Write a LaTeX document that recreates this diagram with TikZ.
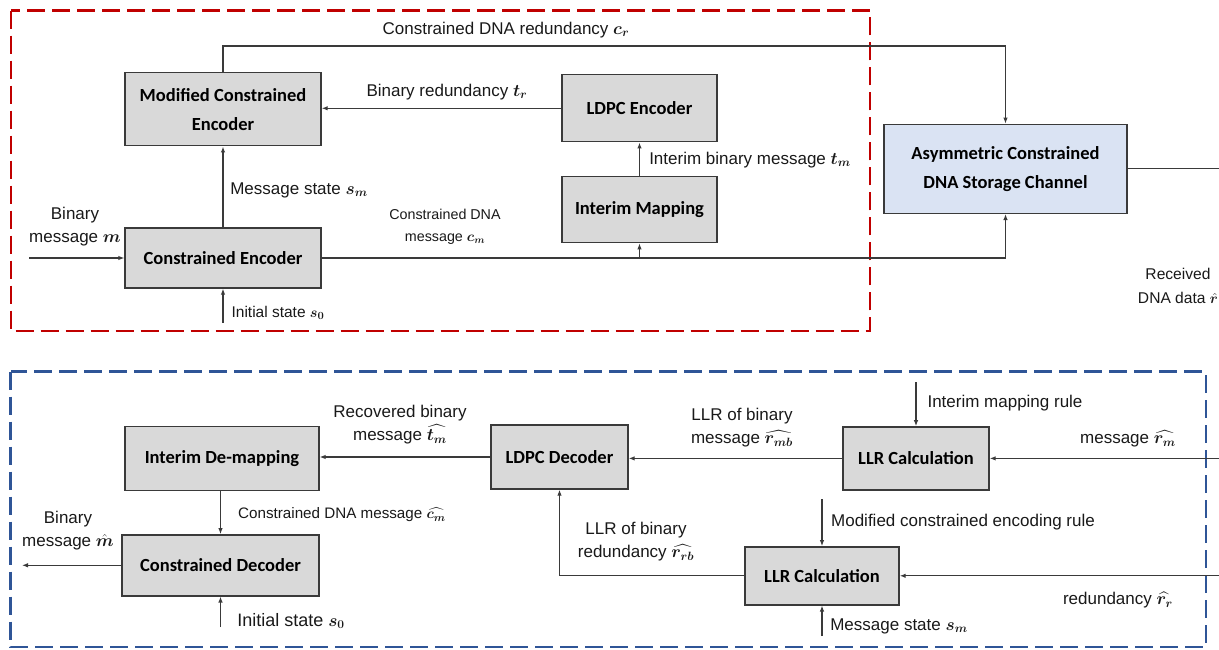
\documentclass[tikz,border=0pt]{standalone}
\usepackage{amsmath}
\usepackage{bm}
\usepackage{fontspec}
\setmainfont{Liberation Sans}
\newfontfamily\boxfont{Carlito}
\usetikzlibrary{arrows.meta}
\definecolor{boxgray}{HTML}{D9D9D9}
\definecolor{chanblue}{HTML}{DAE3F3}
\definecolor{linegray}{HTML}{3A3A3A}
\definecolor{redframe}{HTML}{C00000}
\definecolor{blueframe}{HTML}{2F5597}
\begin{document}
\begin{tikzpicture}[x=1pt,y=-1pt,
  blk/.style={draw=linegray, line width=1.4pt, fill=boxgray, inner sep=0pt, align=center,
    font=\boxfont\bfseries\fontsize{18.5}{29}\selectfont},
  lbl/.style={inner sep=0pt, align=center, text=black!90, font=\fontsize{17}{23}\selectfont},
  conn/.style={draw=linegray, line width=1.1pt},
  arr/.style={conn, -{Latex[length=6pt,width=4.5pt]}},
  frame/.style={line width=2.6pt, dash pattern=on 18pt off 7pt}]
\useasboundingbox (0,0) rectangle (1219,650);
% frames
\draw[frame, draw=redframe] (11,10.7) rectangle (870,331);
\draw[frame, draw=blueframe] (10.7,371.7) rectangle (1206,647);
% top blocks
\node[blk, minimum width=196pt, minimum height=73pt] (mce) at (223,109.3) {Modified Constrained\\Encoder};
\node[blk, minimum width=155pt, minimum height=67pt] (ldpce) at (639.5,108.3) {LDPC Encoder};
\node[blk, minimum width=155pt, minimum height=66pt] (imap) at (639.5,209.7) {Interim Mapping};
\node[blk, minimum width=196pt, minimum height=60pt] (ce) at (223,258) {Constrained Encoder};
\node[blk, fill=chanblue, minimum width=243pt, minimum height=89pt] (chan) at (1005.5,168.8) {Asymmetric Constrained\\DNA Storage Channel};
% bottom blocks
\node[blk, minimum width=194pt, minimum height=64pt] (idm) at (222,458.4) {Interim De-mapping};
\node[blk, minimum width=137pt, minimum height=64pt] (ldpcd) at (559.5,457) {LDPC Decoder};
\node[blk, minimum width=146pt, minimum height=63pt] (llr1) at (916,458.4) {LLR Calculation};
\node[blk, minimum width=197pt, minimum height=61pt] (cd) at (220.5,565.3) {Constrained Decoder};
\node[blk, minimum width=154pt, minimum height=58pt] (llr2) at (822,575.8) {LLR Calculation};
% free ends
\coordinate (topY) at (0,46);
\coordinate (inM) at (29,258);
\coordinate (s0top) at (223,322.7);
\coordinate (chanout) at (1219,168.3);
\coordinate (ceJoin) at (1005.5,258);
\coordinate (rmIn) at (1219,458.4);
\coordinate (rrIn) at (1219,575.8);
\coordinate (imrule) at (916,382);
\coordinate (mcrule) at (822,499);
\coordinate (smbot) at (822,636);
\coordinate (s0bot) at (220.5,627);
\coordinate (mhatout) at (22,565.3);
% top connectors
\draw[arr] (mce.north) -- (mce.north |- topY) -| (chan.north);
\draw[arr] (ldpce.west) -- (ldpce.west -| mce.east);
\draw[arr] (imap.north) -- (ldpce.south);
\draw[arr] (ce.north) -- (mce.south);
\draw[arr] (inM) -- (ce.west);
\draw[arr] (s0top) -- (ce.south);
\draw[arr] (ce.east) -- (ceJoin) -- (chan.south);
\draw[arr] (ce.east -| imap.south) -- (imap.south);
\draw[conn] (chan.east) -- (chan.east -| chanout);
% bottom connectors
\draw[arr] (rmIn) -- (llr1.east);
\draw[arr] (imrule) -- (llr1.north);
\draw[arr] (llr1.west) -- (llr1.west -| ldpcd.east);
\draw[arr] (ldpcd.west) -- (ldpcd.west -| idm.east);
\draw[arr] (idm.south -| cd.north) -- (cd.north);
\draw[arr] (cd.west) -- (mhatout);
\draw[arr] (s0bot) -- (cd.south);
\draw[arr] (mcrule) -- (llr2.north);
\draw[arr] (rrIn) -- (llr2.east);
\draw[arr] (llr2.west) -| (ldpcd.south);
\draw[arr] (smbot) -- (llr2.south);
% top labels
\node[lbl] (lcr) at (506,30) {Constrained DNA redundancy $\bm{c_r}$};
\node[lbl] (ltr) at (447,92) {Binary redundancy $\bm{t_r}$};
\node[lbl] (ltm) at (750,160) {Interim binary message $\bm{t_m}$};
\node[lbl] (lsm) at (299,190) {Message state $\bm{s_m}$};
\node[lbl] (lm) at (75,227) {Binary\\message $\bm{m}$};
\node[lbl, font=\fontsize{14.3}{22}\selectfont] (lcm) at (445,227) {Constrained DNA\\message $\bm{c_m}$};
\node[lbl, font=\fontsize{15.5}{20}\selectfont] (ls0) at (278,313) {Initial state $\bm{s_0}$};
\node[lbl, font=\fontsize{15.6}{24}\selectfont] (lrec) at (1178,286) {Received\\DNA data $\hat{\bm{r}}$};
% bottom labels
\node[lbl] (lrb) at (400,425) {Recovered binary\\message $\widehat{\bm{t_m}}$};
\node[lbl] (lrmb) at (742,428) {LLR of binary\\message $\widehat{\bm{r_{mb}}}$};
\node[lbl] (limr) at (1005,403) {Interim mapping rule};
\node[lbl] (lrm) at (1128,439) {message $\widehat{\bm{r_m}}$};
\node[lbl, font=\fontsize{15.2}{20}\selectfont] (lcmh) at (342,515) {Constrained DNA message $\widehat{\bm{c_m}}$};
\node[lbl] (lmh) at (68,531) {Binary\\message $\hat{\bm{m}}$};
\node[lbl] (lmcr) at (963,522) {Modified constrained encoding rule};
\node[lbl] (lrrb) at (636,542) {LLR of binary\\redundancy $\widehat{\bm{r_{rb}}}$};
\node[lbl] (lrr) at (1118,600) {redundancy $\widehat{\bm{r_r}}$};
\node[lbl, font=\fontsize{18}{22}\selectfont] (ls0b) at (291,621) {Initial state $\bm{s_0}$};
\node[lbl] (lsmb) at (899,626) {Message state $\bm{s_m}$};
\end{tikzpicture}
\end{document}
